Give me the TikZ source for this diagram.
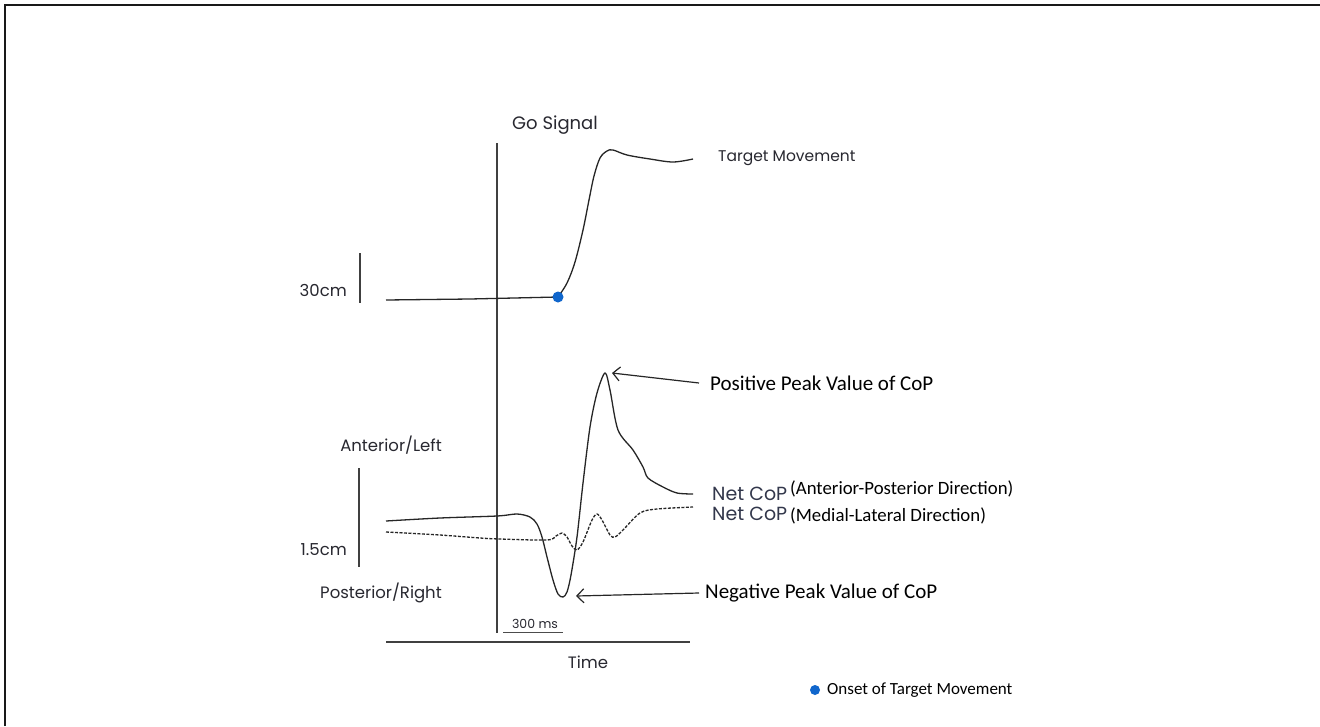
\documentclass[tikz,border=0pt]{standalone}
\usepackage{fontspec}
\setmainfont{Carlito}
\newfontfamily\gothic{Poppins}
\usetikzlibrary{arrows.meta}
\definecolor{dotblue}{RGB}{16,102,204}
\definecolor{labgray}{RGB}{40,40,48}
\definecolor{netgray}{RGB}{50,55,75}
\begin{document}
\begin{tikzpicture}[x=1pt,y=-1pt,
  trace/.style={line width=1.3pt,black!85},
  mltrace/.style={line width=1.3pt,black!85,dash pattern=on 3pt off 1.5pt},
  axisline/.style={line width=1.4pt,black!75},
  glab/.style={font=\gothic\fontsize{16.5}{19}\selectfont,text=labgray,inner sep=0pt},
  clab/.style={font=\fontsize{21}{25}\selectfont,text=black,inner sep=0pt},
  dlab/.style={font=\fontsize{18.8}{22}\selectfont,text=black,inner sep=0pt},
  netlab/.style={font=\gothic\fontsize{19}{22}\selectfont,text=netgray,inner sep=0pt},
  peakarrow/.style={line width=1.2pt,black!85,-{Straight Barb[length=7pt,width=14pt]}}]
\useasboundingbox (0,0) rectangle (1320,726);
\fill[white] (0,0) rectangle (1320,726);
% frame
\draw[line width=2.2pt,black!90] (5,726) -- (5,5) -- (1320,5);

% axes and scale bars
\coordinate (goTop) at (497,143);
\coordinate (goBot) at (497,633);
\draw[axisline] (goTop) -- (goBot);
\coordinate (tA) at (386,642);
\coordinate (tB) at (690,642);
\draw[axisline] (tA) -- (tB);
\coordinate (s30a) at (360,253);
\coordinate (s30b) at (360,303);
\draw[axisline] (s30a) -- (s30b);
\coordinate (s15a) at (359,468);
\coordinate (s15b) at (359,567);
\draw[axisline] (s15a) -- (s15b);
\coordinate (msA) at (503,632);
\coordinate (msB) at (563,632);
\draw[line width=1pt,black!70] (msA) -- (msB);

% labels
\node[glab,anchor=west,font=\gothic\fontsize{18}{21}\selectfont] (go) at (512,125) {Go Signal};
\node[glab,anchor=west,font=\gothic\fontsize{15.5}{18}\selectfont] (tm) at (718,158) {Target Movement};
\node[glab,anchor=east] (cm30) at (347,290) {30cm};
\node[glab,anchor=east] (ant) at (442,445) {Anterior/Left};
\node[glab,anchor=east] (cm15) at (347,550) {1.5cm};
\node[glab,anchor=east] (post) at (442,593) {Posterior/Right};
\node[glab,font=\gothic\fontsize{12.5}{15}\selectfont] (ms) at (535,624) {300 ms};
\node[glab] (time) at (588,662) {Time};

% target movement trace
\coordinate (onset) at (558,297);
\draw[trace] (386,300) -- (470,299) -- (onset);
\draw[trace] plot[smooth,tension=0.55] coordinates {(558,297) (567,283) (575,262) (583,230) (589,200) (594,176) (600,158) (607,151) (613,150) (627,155) (650,159) (673,162) (693,159)};
\fill[dotblue] (onset) circle (5.5);

% AP trace (solid)
\coordinate (peakP) at (605,373);
\coordinate (peakN) at (563,597);
\draw[trace] plot[smooth,tension=0.5] coordinates {(386,521) (440,518) (497,516) (517,514) (530,517) (537,524) (542,537) (547,557) (553,580) (558,594) (563,597) (567,592) (571,575) (577,537) (583,483) (590,427) (597,393) (605,373) (610,390) (618,430) (633,450) (643,467) (648,478) (663,487) (677,493) (693,494)};

% ML trace (dashed)
\draw[mltrace] plot[smooth,tension=0.5] coordinates {(386,532) (440,535) (480,538) (500,539) (547,540) (556,536) (562,533) (567,537) (572,546) (577,550) (583,542) (592,520) (597,514) (602,520) (610,535) (615,537) (623,530) (640,513) (657,509) (693,507)};

% peak labels and arrows
\node[clab,anchor=west,inner xsep=11pt] (posl) at (699,383) {Positive Peak Value of CoP};
\node[clab,anchor=west,inner xsep=6pt] (negl) at (699,593) {Negative Peak Value of CoP};
\draw[peakarrow] (posl.west) -- ([xshift=7pt]peakP);
\draw[peakarrow] (negl.west) -- ([xshift=13pt,yshift=1pt]peakN);

% net CoP labels
\node[netlab,anchor=west] (netap) at (712,494) {Net CoP};
\node[dlab,anchor=west] (apdir) at (790,489) {(Anterior-Posterior Direction)};
\node[netlab,anchor=west] (netml) at (712,514) {Net CoP};
\node[dlab,anchor=west] (mldir) at (790,516) {(Medial-Lateral Direction)};

% legend
\fill[dotblue] (815,690) circle (5);
\node[clab,anchor=west,font=\fontsize{17}{20}\selectfont] (onsetl) at (827,690) {Onset of Target Movement};
\end{tikzpicture}
\end{document}
